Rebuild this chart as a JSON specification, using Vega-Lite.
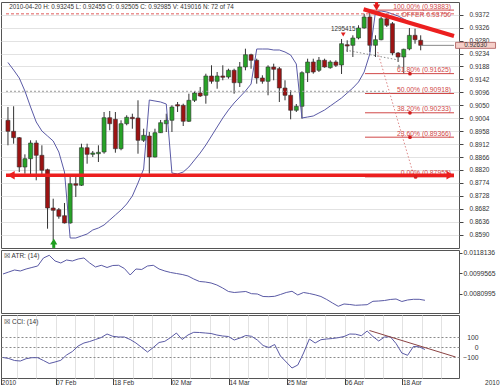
{
"$schema": "https://vega.github.io/schema/vega-lite/v6.json",
"padding": 0,
"background": "white",
"spacing": 2,
"bounds": "flush",
"config": {"view": {"stroke": "#555", "strokeWidth": 1}, "font": "Liberation Sans", "axis": {"labelFont": "Liberation Sans", "titleFont": "Liberation Sans"}},
"datasets": {
"candles": [
{"i":0,"d":"2010-01-27","o":0.89966,"h":0.90439,"l":0.89077,"c":0.89575},
{"i":1,"d":"2010-01-28","o":0.89575,"h":0.90464,"l":0.89134,"c":0.89348},
{"i":2,"d":"2010-01-29","o":0.89348,"h":0.89372,"l":0.88128,"c":0.88306},
{"i":3,"d":"2010-01-31","o":0.88306,"h":0.88757,"l":0.88068,"c":0.88601},
{"i":4,"d":"2010-02-01","o":0.88601,"h":0.89255,"l":0.88022,"c":0.89159},
{"i":5,"d":"2010-02-02","o":0.89159,"h":0.89255,"l":0.87833,"c":0.88722},
{"i":6,"d":"2010-02-03","o":0.88722,"h":0.89077,"l":0.88022,"c":0.88189},
{"i":7,"d":"2010-02-04","o":0.88210,"h":0.88246,"l":0.86113,"c":0.86849},
{"i":8,"d":"2010-02-05","o":0.86849,"h":0.87179,"l":0.85701,"c":0.86767},
{"i":9,"d":"2010-02-07","o":0.86788,"h":0.86849,"l":0.86468,"c":0.86554},
{"i":10,"d":"2010-02-08","o":0.86575,"h":0.87027,"l":0.86298,"c":0.86316},
{"i":11,"d":"2010-02-09","o":0.86316,"h":0.87951,"l":0.86291,"c":0.87712},
{"i":12,"d":"2010-02-10","o":0.87712,"h":0.87951,"l":0.87240,"c":0.87656},
{"i":13,"d":"2010-02-11","o":0.87656,"h":0.89134,"l":0.87631,"c":0.88992},
{"i":14,"d":"2010-02-12","o":0.88992,"h":0.89134,"l":0.88423,"c":0.88757},
{"i":15,"d":"2010-02-14","o":0.88757,"h":0.88875,"l":0.88662,"c":0.88804},
{"i":16,"d":"2010-02-15","o":0.88779,"h":0.89077,"l":0.88484,"c":0.88829},
{"i":17,"d":"2010-02-16","o":0.88839,"h":0.90261,"l":0.88779,"c":0.90058},
{"i":18,"d":"2010-02-17","o":0.90058,"h":0.90297,"l":0.89611,"c":0.89845},
{"i":19,"d":"2010-02-18","o":0.90002,"h":0.90261,"l":0.88814,"c":0.88957},
{"i":20,"d":"2010-02-19","o":0.88957,"h":0.89966,"l":0.88900,"c":0.89845},
{"i":21,"d":"2010-02-21","o":0.89845,"h":0.90144,"l":0.89788,"c":0.90073},
{"i":22,"d":"2010-02-22","o":0.90073,"h":0.90201,"l":0.89667,"c":0.90023},
{"i":23,"d":"2010-02-23","o":0.90048,"h":0.90677,"l":0.88779,"c":0.89255},
{"i":24,"d":"2010-02-24","o":0.89255,"h":0.89667,"l":0.89195,"c":0.89433},
{"i":25,"d":"2010-02-25","o":0.89408,"h":0.89550,"l":0.88068,"c":0.88662},
{"i":26,"d":"2010-02-26","o":0.88662,"h":0.89667,"l":0.88644,"c":0.89525},
{"i":27,"d":"2010-02-28","o":0.89525,"h":0.89977,"l":0.89515,"c":0.89881},
{"i":28,"d":"2010-03-01","o":0.89845,"h":0.90201,"l":0.89550,"c":0.89966},
{"i":29,"d":"2010-03-02","o":0.89966,"h":0.90499,"l":0.89550,"c":0.90439},
{"i":30,"d":"2010-03-03","o":0.90521,"h":0.90616,"l":0.90261,"c":0.90474},
{"i":31,"d":"2010-03-04","o":0.90499,"h":0.90556,"l":0.89763,"c":0.89931},
{"i":32,"d":"2010-03-05","o":0.89931,"h":0.90912,"l":0.89906,"c":0.90677},
{"i":33,"d":"2010-03-07","o":0.90677,"h":0.91000,"l":0.90616,"c":0.90936},
{"i":34,"d":"2010-03-08","o":0.90936,"h":0.91150,"l":0.90794,"c":0.90830},
{"i":35,"d":"2010-03-09","o":0.90855,"h":0.91622,"l":0.90556,"c":0.91541},
{"i":36,"d":"2010-03-10","o":0.91541,"h":0.91921,"l":0.91267,"c":0.91352},
{"i":37,"d":"2010-03-11","o":0.91352,"h":0.91683,"l":0.91089,"c":0.91541},
{"i":38,"d":"2010-03-12","o":0.91541,"h":0.91921,"l":0.91388,"c":0.91495},
{"i":39,"d":"2010-03-14","o":0.91505,"h":0.91800,"l":0.91445,"c":0.91743},
{"i":40,"d":"2010-03-15","o":0.91743,"h":0.91800,"l":0.90912,"c":0.91302},
{"i":41,"d":"2010-03-16","o":0.91302,"h":0.92038,"l":0.91150,"c":0.91861},
{"i":42,"d":"2010-03-17","o":0.91861,"h":0.92511,"l":0.91743,"c":0.92298},
{"i":43,"d":"2010-03-18","o":0.92298,"h":0.92333,"l":0.91800,"c":0.92099},
{"i":44,"d":"2010-03-19","o":0.92099,"h":0.92156,"l":0.91267,"c":0.91470},
{"i":45,"d":"2010-03-21","o":0.91470,"h":0.91566,"l":0.91267,"c":0.91352},
{"i":46,"d":"2010-03-22","o":0.91352,"h":0.91921,"l":0.90855,"c":0.91861},
{"i":47,"d":"2010-03-23","o":0.91861,"h":0.91978,"l":0.91388,"c":0.91779},
{"i":48,"d":"2010-03-24","o":0.91800,"h":0.91861,"l":0.90616,"c":0.91114},
{"i":49,"d":"2010-03-25","o":0.91114,"h":0.91388,"l":0.90677,"c":0.90855},
{"i":50,"d":"2010-03-26","o":0.90855,"h":0.91032,"l":0.90002,"c":0.90322},
{"i":51,"d":"2010-03-28","o":0.90322,"h":0.90545,"l":0.90261,"c":0.90464},
{"i":52,"d":"2010-03-29","o":0.90464,"h":0.91708,"l":0.90023,"c":0.91658},
{"i":53,"d":"2010-03-30","o":0.91658,"h":0.92156,"l":0.91327,"c":0.92038},
{"i":54,"d":"2010-03-31","o":0.92038,"h":0.92156,"l":0.91622,"c":0.91683},
{"i":55,"d":"2010-04-01","o":0.91743,"h":0.92216,"l":0.91683,"c":0.92099},
{"i":56,"d":"2010-04-02","o":0.92099,"h":0.92156,"l":0.91836,"c":0.91861},
{"i":57,"d":"2010-04-04","o":0.91836,"h":0.92099,"l":0.91800,"c":0.92038},
{"i":58,"d":"2010-04-05","o":0.92038,"h":0.92099,"l":0.91861,"c":0.91921},
{"i":59,"d":"2010-04-06","o":0.91932,"h":0.92856,"l":0.91612,"c":0.92689},
{"i":60,"d":"2010-04-07","o":0.92653,"h":0.92810,"l":0.92394,"c":0.92607},
{"i":61,"d":"2010-04-08","o":0.92632,"h":0.92987,"l":0.92216,"c":0.92891},
{"i":62,"d":"2010-04-09","o":0.92891,"h":0.93343,"l":0.92845,"c":0.93247},
{"i":63,"d":"2010-04-11","o":0.93247,"h":0.93755,"l":0.93222,"c":0.93638},
{"i":64,"d":"2010-04-12","o":0.93638,"h":0.93883,"l":0.92394,"c":0.92632},
{"i":65,"d":"2010-04-13","o":0.92632,"h":0.92987,"l":0.92216,"c":0.92831},
{"i":66,"d":"2010-04-14","o":0.92831,"h":0.93638,"l":0.92810,"c":0.93577},
{"i":67,"d":"2010-04-15","o":0.93577,"h":0.93698,"l":0.93282,"c":0.93343},
{"i":68,"d":"2010-04-16","o":0.93400,"h":0.93460,"l":0.92276,"c":0.92358},
{"i":69,"d":"2010-04-18","o":0.92358,"h":0.92394,"l":0.92038,"c":0.92216},
{"i":70,"d":"2010-04-19","o":0.92216,"h":0.92511,"l":0.91625,"c":0.92490},
{"i":71,"d":"2010-04-20","o":0.92505,"h":0.93245,"l":0.92455,"c":0.92985},
{"i":72,"d":"2010-04-21","o":0.92987,"h":0.93222,"l":0.92689,"c":0.92831},
{"i":73,"d":"2010-04-22","o":0.92810,"h":0.92987,"l":0.92454,"c":0.92630}
],
"env": [
{"i":0,"v":0.92021},{"i":1,"v":0.91754},{"i":2,"v":0.91470},{"i":3,"v":0.91008},{"i":4,"v":0.90439},{"i":5,"v":0.89906},{"i":6,"v":0.89586},{"i":7,"v":0.89408},{"i":8,"v":0.89230},{"i":9,"v":0.88839},
{"i":10,"v":0.88128},{"i":11,"v":0.85782},{"i":12,"v":0.85782},{"i":13,"v":0.85854},{"i":14,"v":0.85925},{"i":15,"v":0.86067},{"i":16,"v":0.86138},{"i":17,"v":0.86245},{"i":18,"v":0.86422},{"i":19,"v":0.86600},
{"i":20,"v":0.86778},{"i":21,"v":0.86991},{"i":22,"v":0.87275},{"i":23,"v":0.87737},{"i":24,"v":0.88235},{"i":25,"v":0.90688},{"i":26,"v":0.90652},{"i":27,"v":0.90616},{"i":28,"v":0.90545},{"i":29,"v":0.88093},
{"i":30,"v":0.88057},{"i":31,"v":0.88128},{"i":32,"v":0.88306},{"i":33,"v":0.88555},{"i":34,"v":0.88804},{"i":35,"v":0.89088},{"i":36,"v":0.89408},{"i":37,"v":0.89728},{"i":38,"v":0.90048},{"i":39,"v":0.90332},
{"i":40,"v":0.90581},{"i":41,"v":0.90794},{"i":42,"v":0.91008},{"i":43,"v":0.91256},{"i":44,"v":0.92500},{"i":45,"v":0.92500},{"i":46,"v":0.92500},{"i":47,"v":0.92465},{"i":48,"v":0.92465},{"i":49,"v":0.92394},
{"i":50,"v":0.92287},{"i":51,"v":0.91967},{"i":52,"v":0.90048},{"i":53,"v":0.90083},{"i":54,"v":0.90119},{"i":55,"v":0.90226},{"i":56,"v":0.90332},{"i":57,"v":0.90474},{"i":58,"v":0.90616},{"i":59,"v":0.90759},
{"i":60,"v":0.90936},{"i":61,"v":0.91114},{"i":62,"v":0.91327},{"i":63,"v":0.91683},{"i":64,"v":0.92323},{"i":65,"v":0.93816},{"i":66,"v":0.93851},{"i":67,"v":0.93816},{"i":68,"v":0.93745},{"i":69,"v":0.93673},
{"i":70,"v":0.93567},{"i":71,"v":0.93460},{"i":72,"v":0.93318}
],
"atr": [
{"i":0,"v":0.009912},{"i":1,"v":0.010093},{"i":2,"v":0.010274},{"i":3,"v":0.010184},{"i":4,"v":0.010365},{"i":5,"v":0.010501},{"i":6,"v":0.010637},{"i":7,"v":0.011361},{"i":8,"v":0.011606},{"i":9,"v":0.011090},
{"i":10,"v":0.010909},{"i":11,"v":0.011180},{"i":12,"v":0.011090},{"i":13,"v":0.011271},{"i":14,"v":0.011361},{"i":15,"v":0.010909},{"i":16,"v":0.010546},{"i":17,"v":0.010700},{"i":18,"v":0.010501},{"i":19,"v":0.010682},
{"i":20,"v":0.010700},{"i":21,"v":0.010410},{"i":22,"v":0.009821},{"i":23,"v":0.010365},{"i":24,"v":0.010320},{"i":25,"v":0.010637},{"i":26,"v":0.010700},{"i":27,"v":0.010365},{"i":28,"v":0.010184},{"i":29,"v":0.010048},
{"i":30,"v":0.009957},{"i":31,"v":0.009866},{"i":32,"v":0.009730},{"i":33,"v":0.009459},{"i":34,"v":0.009232},{"i":35,"v":0.009187},{"i":36,"v":0.009096},{"i":37,"v":0.008915},{"i":38,"v":0.008643},{"i":39,"v":0.008326},
{"i":40,"v":0.008236},{"i":41,"v":0.008281},{"i":42,"v":0.008326},{"i":43,"v":0.008127},{"i":44,"v":0.008100},{"i":45,"v":0.007873},{"i":46,"v":0.007855},{"i":47,"v":0.007891},{"i":48,"v":0.008054},{"i":49,"v":0.008236},
{"i":50,"v":0.008345},{"i":51,"v":0.008010},{"i":52,"v":0.008236},{"i":53,"v":0.008145},{"i":54,"v":0.008027},{"i":55,"v":0.007873},{"i":56,"v":0.007601},{"i":57,"v":0.007284},{"i":58,"v":0.006985},{"i":59,"v":0.007194},
{"i":60,"v":0.007148},{"i":61,"v":0.007076},{"i":62,"v":0.007103},{"i":63,"v":0.007130},{"i":64,"v":0.007438},{"i":65,"v":0.007465},{"i":66,"v":0.007510},{"i":67,"v":0.007601},{"i":68,"v":0.007646},{"i":69,"v":0.007420},
{"i":70,"v":0.007556},{"i":71,"v":0.007619},{"i":72,"v":0.007619},{"i":73,"v":0.007529}
],
"cci": [
{"i":0,"v":-105},{"i":1,"v":-115},{"i":2,"v":-135},{"i":3,"v":-140},{"i":4,"v":-117},{"i":5,"v":-107},{"i":6,"v":-107},{"i":7,"v":-135},{"i":8,"v":-165},{"i":9,"v":-150},
{"i":10,"v":-133},{"i":11,"v":-80},{"i":12,"v":-45},{"i":13,"v":10},{"i":14,"v":40},{"i":15,"v":55},{"i":16,"v":75},{"i":17,"v":95},{"i":18,"v":130},{"i":19,"v":107},
{"i":20,"v":100},{"i":21,"v":100},{"i":22,"v":75},{"i":23,"v":40},{"i":24,"v":-5},{"i":25,"v":-50},{"i":26,"v":-5},{"i":27,"v":45},{"i":28,"v":57},{"i":29,"v":95},
{"i":30,"v":140},{"i":31,"v":75},{"i":32,"v":120},{"i":33,"v":147},{"i":34,"v":145},{"i":35,"v":140},{"i":36,"v":135},{"i":37,"v":120},{"i":38,"v":110},{"i":39,"v":105},
{"i":40,"v":70},{"i":41,"v":90},{"i":42,"v":115},{"i":43,"v":107},{"i":44,"v":70},{"i":45,"v":15},{"i":46,"v":-5},{"i":47,"v":25},{"i":48,"v":-90},{"i":49,"v":-150},
{"i":50,"v":-210},{"i":51,"v":-180},{"i":52,"v":-60},{"i":53,"v":80},{"i":54,"v":40},{"i":55,"v":73},{"i":56,"v":80},{"i":57,"v":85},{"i":58,"v":93},{"i":59,"v":105},
{"i":60,"v":130},{"i":61,"v":128},{"i":62,"v":113},{"i":63,"v":160},{"i":64,"v":105},{"i":65,"v":60},{"i":66,"v":100},{"i":67,"v":103},{"i":68,"v":35},{"i":69,"v":-60},
{"i":70,"v":-83},{"i":71,"v":5},{"i":72,"v":2},{"i":73,"v":-25}
],
"lv": [
{"k":"offer","i0":-0.346,"i1":78.89,"p":0.9375,"t":"OFFER 0.93750"},
{"k":"gray","i0":-0.346,"i1":67,"p":0.90997,"t":""},
{"k":"fib","i0":63.15,"i1":78.89,"p":0.93883,"t":"100.00% (0.93883)"},
{"k":"fib","i0":63.15,"i1":78.89,"p":0.91625,"t":"61.80% (0.91625)"},
{"k":"fib","i0":63.15,"i1":78.89,"p":0.90918,"t":"50.00% (0.90918)"},
{"k":"fib","i0":63.15,"i1":78.89,"p":0.90233,"t":"38.20% (0.90233)"},
{"k":"fib","i0":63.15,"i1":78.89,"p":0.89366,"t":"23.60% (0.89366)"},
{"k":"fib","i0":63.15,"i1":78.89,"p":0.87955,"t":"0.00% (0.87955)"},
{"k":"last","i0":73,"i1":78.89,"p":0.9263,"t":""},
{"k":"thick","i0":-0.346,"i1":78.89,"p":0.88012,"t":""}
],
"sg": [
{"g":"tr","i":62.9,"p":0.93912},{"g":"tr","i":78.89,"p":0.92963},
{"g":"gd","i":59.8,"p":0.9246},{"g":"gd","i":69.3,"p":0.9210},
{"g":"pd","i":65.4,"p":0.92394},{"g":"pd","i":71.8,"p":0.87986}
],
"pt": [
{"k":"dot","i":71.1,"p":0.91625},{"k":"dot","i":71.1,"p":0.90233},{"k":"dot","i":71.1,"p":0.89366},{"k":"dot","i":72.1,"p":0.87955},
{"k":"mk","i":59.3,"p":0.93017},
{"k":"down","i":65.2,"p":0.93976},
{"k":"up","i":8.1,"p":0.85658},
{"k":"gup","i":69.15,"p":0.9190},
{"k":"left","i":0.55,"p":0.88012},
{"k":"right","i":78.2,"p":0.88012},
{"k":"box","i":82.7,"p":0.9263}
],
"sh": [
{"k":"red","i":65.2,"p1":0.94171,"p2":0.9401,"c":"#e21b1b"},
{"k":"green","i":8.1,"p1":0.8560,"p2":0.8543,"c":"#1e9e1e"}
],
"tx": [
{"k":"hdr","i":0.22,"p":0.93993,"t":"2010-04-20 H: 0.93245 L: 0.92455 O: 0.92505 C: 0.92985 V: 419016 N: 72 of 74"},
{"k":"vol","i":59.3,"p":0.93195,"t":"1295415"},
{"k":"px","i":82.7,"p":0.9263,"t":"0.92630"}
]
},
"vconcat": [
{
"width": 458, "height": 246,
"resolve": {"axis": {"y": "independent"}},
"layer": [
{"data": {"name": "candles"}, "mark": {"type": "rule", "color": "#333", "strokeWidth": 1},
 "encoding": {
  "x": {"field": "i", "type": "quantitative", "scale": {"domain": [-0.346, 78.89], "nice": false, "zero": false},
        "axis": {"values": [2.43,5.77,9.1,12.43,15.77,19.1,22.43,25.77,29.1,32.43,35.77,39.1,42.43,45.77,49.1,52.43,55.77,59.1,62.43,65.77,69.1,72.43,75.77], "grid": true, "gridColor": "#e2e2e2", "labels": false, "ticks": false, "domain": false, "title": null}},
  "y": {"field": "l", "type": "quantitative", "scale": {"domain": [0.85427, 0.94171], "nice": false, "zero": false},
        "axis": {"orient": "right", "values": [0.9372,0.9326,0.928,0.9234,0.9188,0.9142,0.9096,0.905,0.9004,0.8958,0.8912,0.8866,0.882,0.8774,0.8728,0.8682,0.8636,0.859], "format": ".4f", "title": "", "grid": true, "gridColor": "#e2e2e2", "tickSize": 4, "tickColor": "#444", "labelPadding": 6, "labelFontSize": 6.5, "labelColor": "#333", "labelOverlap": false, "domain": false}},
  "y2": {"field": "h"}
 }},
{"data": {"name": "candles"}, "mark": {"type": "bar", "size": 4, "stroke": "#333", "strokeWidth": 0.6},
 "encoding": {
  "x": {"field": "i", "type": "quantitative", "scale": {"domain": [-0.346, 78.89], "nice": false, "zero": false}, "axis": null},
  "y": {"field": "o", "type": "quantitative", "scale": {"domain": [0.85427, 0.94171], "nice": false, "zero": false}, "axis": null},
  "y2": {"field": "c"},
  "color": {"condition": {"test": "datum.c >= datum.o", "value": "#27a327"}, "value": "#9c1313"}
 }},
{"data": {"name": "env"}, "mark": {"type": "line", "color": "#5a5aa6", "strokeWidth": 1},
 "encoding": {
  "x": {"field": "i", "type": "quantitative", "scale": {"domain": [-0.346, 78.89], "nice": false, "zero": false}, "axis": null},
  "y": {"field": "v", "type": "quantitative", "scale": {"domain": [0.85427, 0.94171], "nice": false, "zero": false}, "axis": null}
 }},
{"data": {"name": "lv"}, "transform": [{"filter": "datum.k == 'offer'"}], "mark": {"type": "rule", "color": "#e05a5a", "strokeWidth": 1, "strokeDash": [3, 2]},
 "encoding": {
  "x": {"field": "i0", "type": "quantitative", "scale": {"domain": [-0.346, 78.89], "nice": false, "zero": false}, "axis": null},
  "x2": {"field": "i1"},
  "y": {"field": "p", "type": "quantitative", "scale": {"domain": [0.85427, 0.94171], "nice": false, "zero": false}, "axis": null}
 }},
{"data": {"name": "lv"}, "transform": [{"filter": "datum.k == 'gray'"}], "mark": {"type": "rule", "color": "#999", "strokeWidth": 1, "strokeDash": [2, 2]},
 "encoding": {
  "x": {"field": "i0", "type": "quantitative", "scale": {"domain": [-0.346, 78.89], "nice": false, "zero": false}, "axis": null},
  "x2": {"field": "i1"},
  "y": {"field": "p", "type": "quantitative", "scale": {"domain": [0.85427, 0.94171], "nice": false, "zero": false}, "axis": null}
 }},
{"data": {"name": "lv"}, "transform": [{"filter": "datum.k == 'fib'"}], "mark": {"type": "rule", "color": "#d04848", "strokeWidth": 1},
 "encoding": {
  "x": {"field": "i0", "type": "quantitative", "scale": {"domain": [-0.346, 78.89], "nice": false, "zero": false}, "axis": null},
  "x2": {"field": "i1"},
  "y": {"field": "p", "type": "quantitative", "scale": {"domain": [0.85427, 0.94171], "nice": false, "zero": false}, "axis": null}
 }},
{"data": {"name": "lv"}, "transform": [{"filter": "datum.k == 'last'"}], "mark": {"type": "rule", "color": "#888", "strokeWidth": 1},
 "encoding": {
  "x": {"field": "i0", "type": "quantitative", "scale": {"domain": [-0.346, 78.89], "nice": false, "zero": false}, "axis": null},
  "x2": {"field": "i1"},
  "y": {"field": "p", "type": "quantitative", "scale": {"domain": [0.85427, 0.94171], "nice": false, "zero": false}, "axis": null}
 }},
{"data": {"name": "sg"}, "transform": [{"filter": "datum.g == 'gd'"}], "mark": {"type": "line", "color": "#888", "strokeWidth": 1, "strokeDash": [1.5, 2]},
 "encoding": {
  "x": {"field": "i", "type": "quantitative", "scale": {"domain": [-0.346, 78.89], "nice": false, "zero": false}, "axis": null},
  "y": {"field": "p", "type": "quantitative", "scale": {"domain": [0.85427, 0.94171], "nice": false, "zero": false}, "axis": null}
 }},
{"data": {"name": "sg"}, "transform": [{"filter": "datum.g == 'pd'"}], "mark": {"type": "line", "color": "#d88", "strokeWidth": 1, "strokeDash": [1.5, 2]},
 "encoding": {
  "x": {"field": "i", "type": "quantitative", "scale": {"domain": [-0.346, 78.89], "nice": false, "zero": false}, "axis": null},
  "y": {"field": "p", "type": "quantitative", "scale": {"domain": [0.85427, 0.94171], "nice": false, "zero": false}, "axis": null}
 }},
{"data": {"name": "lv"}, "transform": [{"filter": "datum.k == 'fib'"}], "mark": {"type": "text", "align": "right", "baseline": "bottom", "dx": -3, "dy": -0.5, "fontSize": 6.8, "color": "#d04848"},
 "encoding": {
  "x": {"field": "i1", "type": "quantitative", "scale": {"domain": [-0.346, 78.89], "nice": false, "zero": false}, "axis": null},
  "y": {"field": "p", "type": "quantitative", "scale": {"domain": [0.85427, 0.94171], "nice": false, "zero": false}, "axis": null},
  "text": {"field": "t"}
 }},
{"data": {"name": "lv"}, "transform": [{"filter": "datum.k == 'offer'"}], "mark": {"type": "text", "align": "right", "baseline": "middle", "dx": -3, "dy": 1, "fontSize": 6.8, "color": "#d04848"},
 "encoding": {
  "x": {"field": "i1", "type": "quantitative", "scale": {"domain": [-0.346, 78.89], "nice": false, "zero": false}, "axis": null},
  "y": {"field": "p", "type": "quantitative", "scale": {"domain": [0.85427, 0.94171], "nice": false, "zero": false}, "axis": null},
  "text": {"field": "t"}
 }},
{"data": {"name": "lv"}, "transform": [{"filter": "datum.k == 'thick'"}], "mark": {"type": "rule", "color": "#ec1f1f", "strokeWidth": 3.5},
 "encoding": {
  "x": {"field": "i0", "type": "quantitative", "scale": {"domain": [-0.346, 78.89], "nice": false, "zero": false}, "axis": null},
  "x2": {"field": "i1"},
  "y": {"field": "p", "type": "quantitative", "scale": {"domain": [0.85427, 0.94171], "nice": false, "zero": false}, "axis": null}
 }},
{"data": {"name": "sg"}, "transform": [{"filter": "datum.g == 'tr'"}], "mark": {"type": "line", "color": "#ec1f1f", "strokeWidth": 4, "clip": true},
 "encoding": {
  "x": {"field": "i", "type": "quantitative", "scale": {"domain": [-0.346, 78.89], "nice": false, "zero": false}, "axis": null},
  "y": {"field": "p", "type": "quantitative", "scale": {"domain": [0.85427, 0.94171], "nice": false, "zero": false}, "axis": null}
 }},
{"data": {"name": "sh"}, "mark": {"type": "rule", "strokeWidth": 3},
 "encoding": {
  "x": {"field": "i", "type": "quantitative", "scale": {"domain": [-0.346, 78.89], "nice": false, "zero": false}, "axis": null},
  "y": {"field": "p1", "type": "quantitative", "scale": {"domain": [0.85427, 0.94171], "nice": false, "zero": false}, "axis": null},
  "y2": {"field": "p2"},
  "color": {"field": "c", "type": "nominal", "scale": null, "legend": null}
 }},
{"data": {"name": "pt"}, "transform": [{"filter": "datum.k == 'dot'"}], "mark": {"type": "point", "shape": "circle", "filled": true, "size": 14, "color": "#d42020", "opacity": 1},
 "encoding": {
  "x": {"field": "i", "type": "quantitative", "scale": {"domain": [-0.346, 78.89], "nice": false, "zero": false}, "axis": null},
  "y": {"field": "p", "type": "quantitative", "scale": {"domain": [0.85427, 0.94171], "nice": false, "zero": false}, "axis": null}
 }},
{"data": {"name": "pt"}, "transform": [{"filter": "datum.k == 'mk'"}], "mark": {"type": "point", "shape": "triangle-down", "filled": true, "size": 22, "color": "#e02020", "opacity": 1},
 "encoding": {
  "x": {"field": "i", "type": "quantitative", "scale": {"domain": [-0.346, 78.89], "nice": false, "zero": false}, "axis": null},
  "y": {"field": "p", "type": "quantitative", "scale": {"domain": [0.85427, 0.94171], "nice": false, "zero": false}, "axis": null}
 }},
{"data": {"name": "pt"}, "transform": [{"filter": "datum.k == 'down'"}], "mark": {"type": "point", "shape": "triangle-down", "filled": true, "size": 50, "color": "#e21b1b", "opacity": 1},
 "encoding": {
  "x": {"field": "i", "type": "quantitative", "scale": {"domain": [-0.346, 78.89], "nice": false, "zero": false}, "axis": null},
  "y": {"field": "p", "type": "quantitative", "scale": {"domain": [0.85427, 0.94171], "nice": false, "zero": false}, "axis": null}
 }},
{"data": {"name": "pt"}, "transform": [{"filter": "datum.k == 'up'"}], "mark": {"type": "point", "shape": "triangle-up", "filled": true, "size": 50, "color": "#1e9e1e", "opacity": 1},
 "encoding": {
  "x": {"field": "i", "type": "quantitative", "scale": {"domain": [-0.346, 78.89], "nice": false, "zero": false}, "axis": null},
  "y": {"field": "p", "type": "quantitative", "scale": {"domain": [0.85427, 0.94171], "nice": false, "zero": false}, "axis": null}
 }},
{"data": {"name": "pt"}, "transform": [{"filter": "datum.k == 'gup'"}], "mark": {"type": "point", "shape": "triangle-up", "filled": true, "size": 16, "color": "#999", "opacity": 1},
 "encoding": {
  "x": {"field": "i", "type": "quantitative", "scale": {"domain": [-0.346, 78.89], "nice": false, "zero": false}, "axis": null},
  "y": {"field": "p", "type": "quantitative", "scale": {"domain": [0.85427, 0.94171], "nice": false, "zero": false}, "axis": null}
 }},
{"data": {"name": "pt"}, "transform": [{"filter": "datum.k == 'left'"}], "mark": {"type": "point", "shape": "triangle-left", "filled": true, "size": 70, "color": "#ec1f1f", "opacity": 1},
 "encoding": {
  "x": {"field": "i", "type": "quantitative", "scale": {"domain": [-0.346, 78.89], "nice": false, "zero": false}, "axis": null},
  "y": {"field": "p", "type": "quantitative", "scale": {"domain": [0.85427, 0.94171], "nice": false, "zero": false}, "axis": null}
 }},
{"data": {"name": "pt"}, "transform": [{"filter": "datum.k == 'right'"}], "mark": {"type": "point", "shape": "triangle-right", "filled": true, "size": 70, "color": "#ec1f1f", "opacity": 1},
 "encoding": {
  "x": {"field": "i", "type": "quantitative", "scale": {"domain": [-0.346, 78.89], "nice": false, "zero": false}, "axis": null},
  "y": {"field": "p", "type": "quantitative", "scale": {"domain": [0.85427, 0.94171], "nice": false, "zero": false}, "axis": null}
 }},
{"data": {"name": "pt"}, "transform": [{"filter": "datum.k == 'box'"}], "mark": {"type": "point", "shape": "M-1,-0.15L1,-0.15L1,0.15L-1,0.15Z", "filled": true, "size": 1600, "fill": "#f5cfc9", "stroke": "#a55", "strokeWidth": 0.8, "opacity": 1},
 "encoding": {
  "x": {"field": "i", "type": "quantitative", "scale": {"domain": [-0.346, 78.89], "nice": false, "zero": false}, "axis": null},
  "y": {"field": "p", "type": "quantitative", "scale": {"domain": [0.85427, 0.94171], "nice": false, "zero": false}, "axis": null}
 }},
{"data": {"name": "tx"}, "transform": [{"filter": "datum.k == 'hdr'"}], "mark": {"type": "text", "align": "left", "baseline": "middle", "fontSize": 6.3, "color": "#333"},
 "encoding": {
  "x": {"field": "i", "type": "quantitative", "scale": {"domain": [-0.346, 78.89], "nice": false, "zero": false}, "axis": null},
  "y": {"field": "p", "type": "quantitative", "scale": {"domain": [0.85427, 0.94171], "nice": false, "zero": false}, "axis": null},
  "text": {"field": "t"}
 }},
{"data": {"name": "tx"}, "transform": [{"filter": "datum.k != 'hdr'"}], "mark": {"type": "text", "align": "center", "baseline": "middle", "fontSize": 6.3, "color": "#333"},
 "encoding": {
  "x": {"field": "i", "type": "quantitative", "scale": {"domain": [-0.346, 78.89], "nice": false, "zero": false}, "axis": null},
  "y": {"field": "p", "type": "quantitative", "scale": {"domain": [0.85427, 0.94171], "nice": false, "zero": false}, "axis": null},
  "text": {"field": "t"}
 }}
]
},
{
"width": 458, "height": 63,
"resolve": {"axis": {"y": "independent"}},
"layer": [
{"data": {"name": "atr"}, "mark": {"type": "line", "color": "#5a5aa5", "strokeWidth": 1},
 "encoding": {
  "x": {"field": "i", "type": "quantitative", "scale": {"domain": [-0.346, 78.89], "nice": false, "zero": false},
        "axis": {"values": [2.43,5.77,9.1,12.43,15.77,19.1,22.43,25.77,29.1,32.43,35.77,39.1,42.43,45.77,49.1,52.43,55.77,59.1,62.43,65.77,69.1,72.43,75.77], "grid": true, "gridColor": "#e2e2e2", "labels": false, "ticks": false, "domain": false, "title": null}},
  "y": {"field": "v", "type": "quantitative", "scale": {"domain": [0.006378, 0.012085], "nice": false, "zero": false},
        "axis": {"orient": "right", "values": [0.0118136, 0.0099565, 0.0080995], "format": ".7f", "title": "", "grid": false, "tickSize": 3, "tickColor": "#444", "labelPadding": 1, "labelFontSize": 6.8, "labelColor": "#333", "labelOverlap": false, "domain": false}}
 }},
{"data": {"values": [{"t": "☒ ATR: (14)", "i": 0.2, "v": 0.011542}]}, "mark": {"type": "text", "align": "left", "baseline": "middle", "fontSize": 6.5, "color": "#333"},
 "encoding": {
  "x": {"field": "i", "type": "quantitative", "scale": {"domain": [-0.346, 78.89], "nice": false, "zero": false}, "axis": null},
  "y": {"field": "v", "type": "quantitative", "scale": {"domain": [0.006378, 0.012085], "nice": false, "zero": false}, "axis": null},
  "text": {"field": "t"}
 }}
]
},
{
"width": 458, "height": 63,
"resolve": {"axis": {"x": "independent", "y": "independent"}},
"layer": [
{"data": {"name": "cci"}, "mark": {"type": "line", "color": "#5a5aa5", "strokeWidth": 1},
 "encoding": {
  "x": {"field": "i", "type": "quantitative", "scale": {"domain": [-0.346, 78.89], "nice": false, "zero": false},
        "axis": {"orient": "bottom", "values": [2.43,5.77,9.1,12.43,15.77,19.1,22.43,25.77,29.1,32.43,35.77,39.1,42.43,45.77,49.1,52.43,55.77,59.1,62.43,65.77,69.1,72.43,75.77], "grid": true, "gridColor": "#e2e2e2", "labels": false, "ticks": false, "domain": false, "title": null}},
  "y": {"field": "v", "type": "quantitative", "scale": {"domain": [-310, 320], "nice": false, "zero": false},
        "axis": {"orient": "right", "values": [100, 0, -100], "format": "d", "title": "", "grid": true, "gridDash": [2, 2], "gridColor": "#8a8a8a", "ticks": false, "labelAlign": "right", "labelPadding": 19, "labelFontSize": 6.8, "labelColor": "#333", "labelOverlap": false, "domain": false}}
 }},
{"data": {"values": [{"i": 63.4, "v": 165}, {"i": 78.3, "v": -100}]}, "mark": {"type": "line", "color": "#8b4343", "strokeWidth": 1},
 "encoding": {
  "x": {"field": "i", "type": "quantitative", "scale": {"domain": [-0.346, 78.89], "nice": false, "zero": false},
        "axis": {"orient": "bottom", "values": [-0.3, 9.1, 19.1, 29.1, 39.1, 49.1, 59.1, 69.1], "labelExpr": "datum.value < 0 ? '2010' : ['07 Feb','18 Feb','02 Mar','14 Mar','25 Mar','06 Apr','18 Apr'][round((datum.value - 9.1) / 10)]", "labelAlign": "left", "labelBaseline": "top", "labelDx": 1.5, "labelPadding": -8, "tickSize": 9, "tickColor": "#444", "labelFontSize": 6.5, "labelColor": "#333", "labelFlush": false, "labelOverlap": false, "grid": false, "domain": false, "title": "2010", "titleX": 498, "titleY": 1, "titleAlign": "right", "titleBaseline": "top", "titleFontSize": 6.5, "titleFontWeight": "normal", "titleColor": "#333", "titlePadding": 0}},
  "y": {"field": "v", "type": "quantitative", "scale": {"domain": [-310, 320], "nice": false, "zero": false}, "axis": null}
 }},
{"data": {"values": [{"t": "☒ CCI: (14)", "i": 0.2, "v": 250}]}, "mark": {"type": "text", "align": "left", "baseline": "middle", "fontSize": 6.5, "color": "#333"},
 "encoding": {
  "x": {"field": "i", "type": "quantitative", "scale": {"domain": [-0.346, 78.89], "nice": false, "zero": false}, "axis": null},
  "y": {"field": "v", "type": "quantitative", "scale": {"domain": [-310, 320], "nice": false, "zero": false}, "axis": null},
  "text": {"field": "t"}
 }}
]
}
]
}
